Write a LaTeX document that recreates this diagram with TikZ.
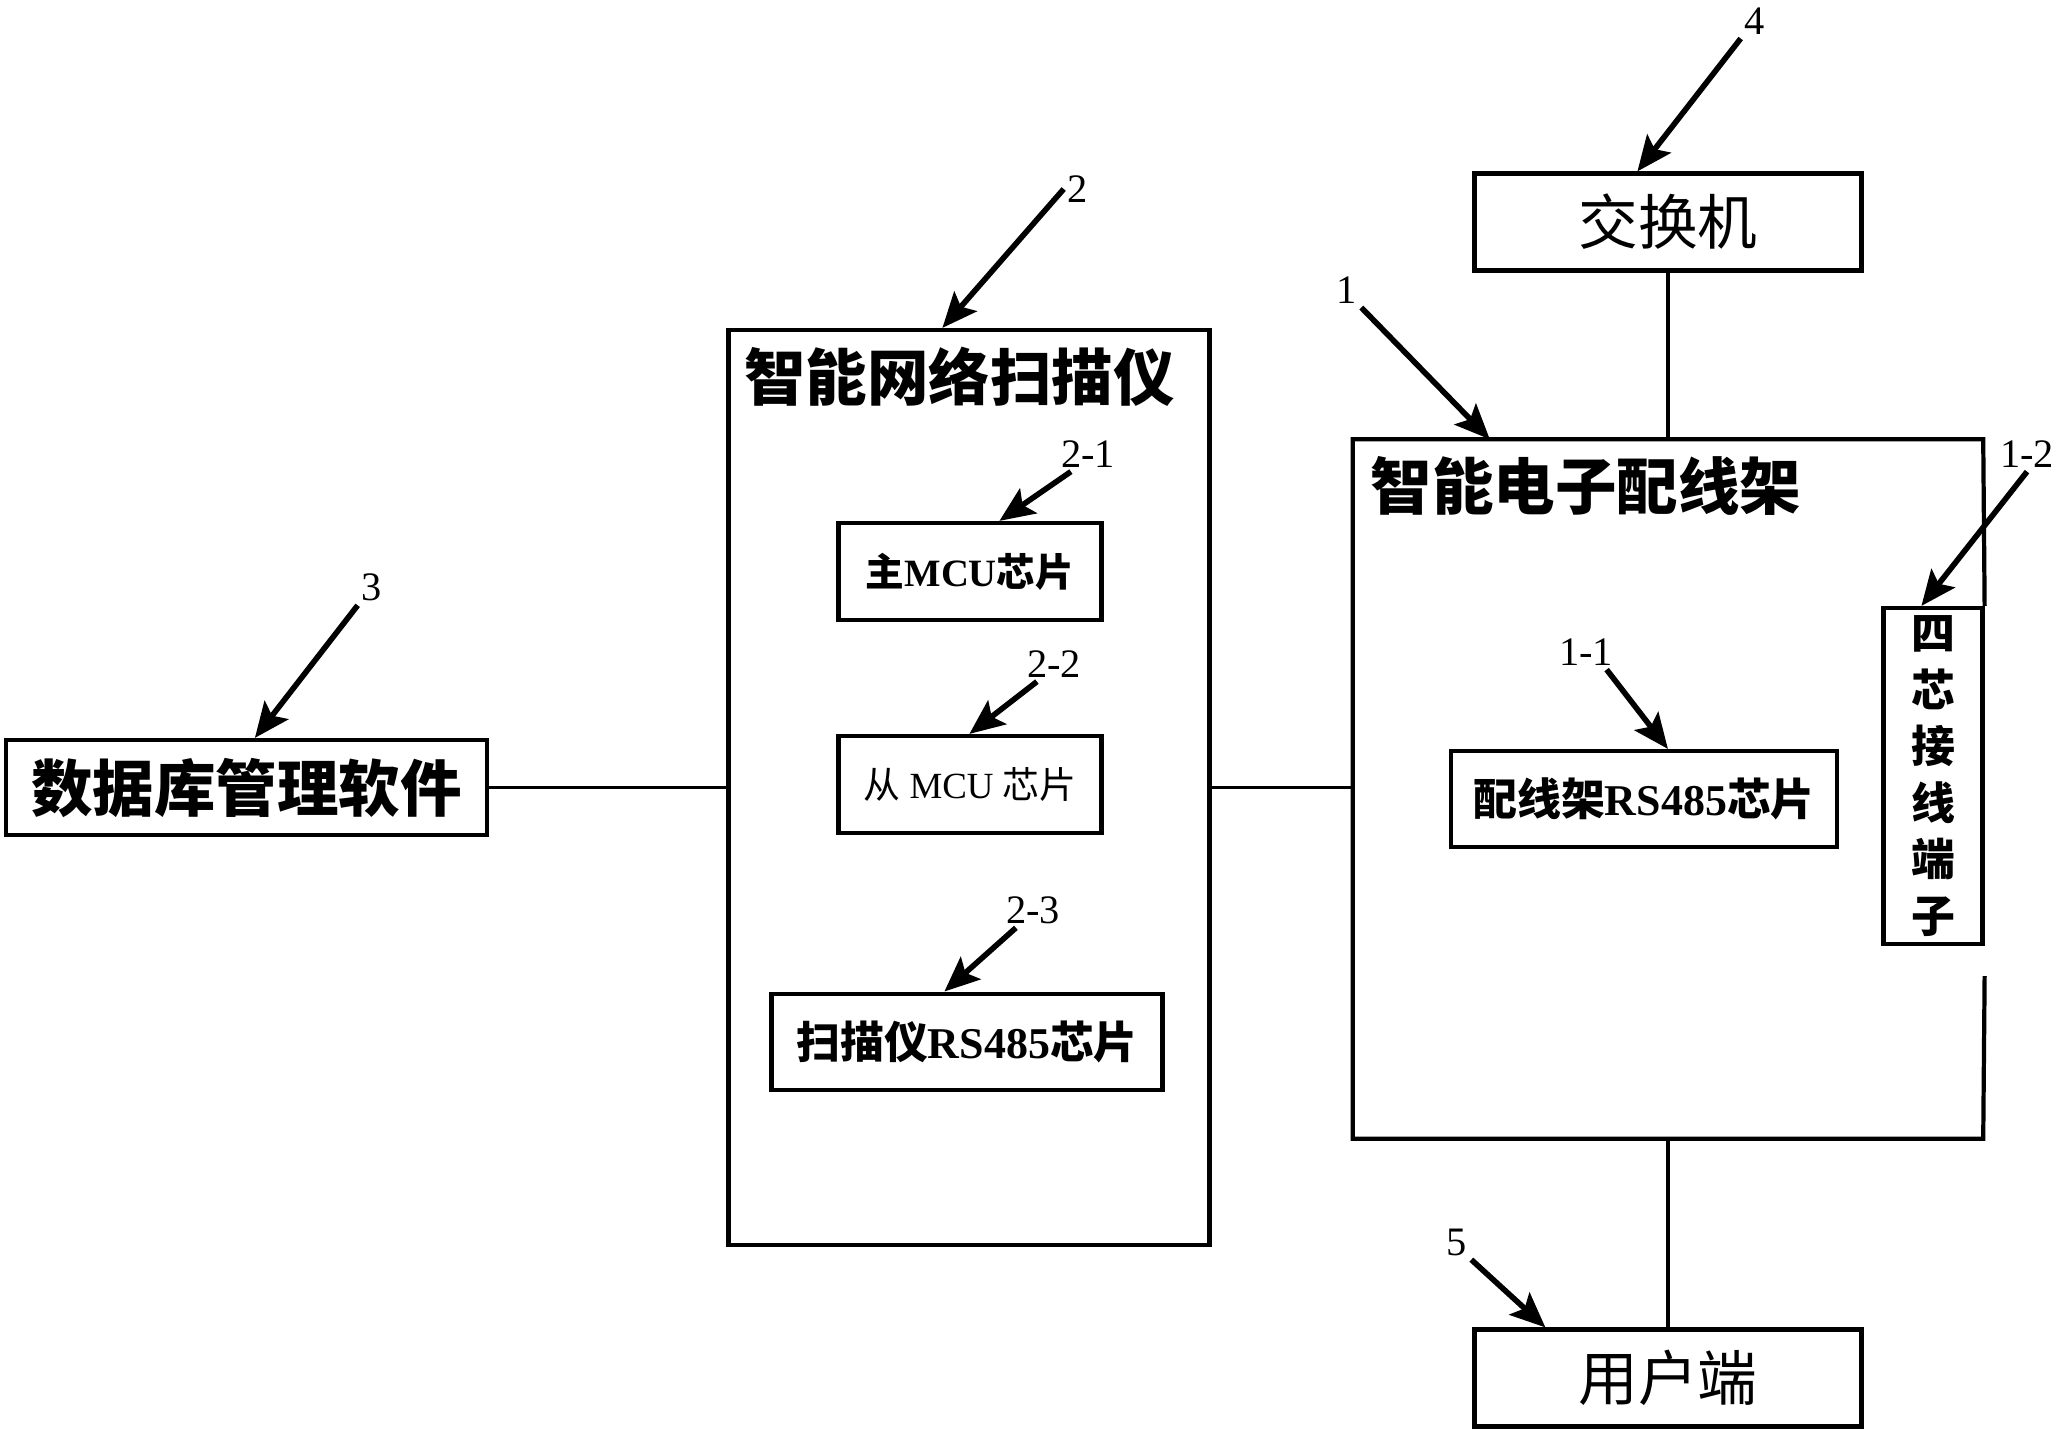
\documentclass[tikz,border=0pt]{standalone}
\usepackage{fontspec}
\setmainfont{Liberation Serif}
\newfontfamily\cjk{Noto Sans CJK SC}
\usetikzlibrary{arrows.meta}

\begin{document}
\begin{tikzpicture}[x=1cm, y=-1cm,
    unit/.style={draw, line width=1.2pt, inner sep=0pt,
        minimum width=3.87cm, minimum height=0.97cm,
        font=\cjk\fontsize{17}{20}\selectfont},
    chip/.style={draw, line width=1.2pt, inner sep=0pt,
        minimum height=0.96cm, font=\bfseries\fontsize{12.5}{15}\selectfont},
    frame/.style={draw, line width=1.2pt, inner sep=0pt},
    title/.style={anchor=north west, inner sep=0pt,
        font=\cjk\bfseries\fontsize{17.5}{20}\selectfont},
    num/.style={inner sep=1pt, font=\fontsize{11.5}{13}\selectfont},
    callout/.style={line width=1.6pt, -{Stealth[length=10pt, width=8.5pt, inset=2pt]}},
    link/.style={line width=1.1pt}
]
    \useasboundingbox (0,0) rectangle (20.59,14.34);

    \node[unit] (switch) at (16.68,2.22) {交换机};
    \node[unit] (user) at (16.68,13.78) {用户端};
    \node[unit, minimum width=4.81cm, minimum height=0.95cm,
        font=\cjk\bfseries\fontsize{17.5}{20}\selectfont] (db) at (2.465,7.875) {数据库管理软件};

    \node[frame, minimum width=4.81cm, minimum height=9.15cm] (scan) at (9.69,7.875) {};
    \node[title] (scantitle) at ([xshift=0.17cm, yshift=-0.18cm]scan.north west) {智能网络扫描仪};
    \node[chip, minimum width=2.63cm, minimum height=0.97cm,
        font=\bfseries\fontsize{11}{13}\selectfont] (mainmcu) at (9.70,5.715) {{\cjk 主}MCU{\cjk 芯片}};
    \node[chip, minimum width=2.63cm, minimum height=0.97cm,
        font=\fontsize{10.5}{13}\selectfont] (slavemcu) at (9.70,7.845) {{\cjk 从} MCU {\cjk 芯片}};
    \node[chip, minimum width=3.91cm] (scanrs) at (9.67,10.416) {{\cjk 扫描仪}RS485{\cjk 芯片}};

    \node[minimum width=6.29cm, minimum height=6.98cm, inner sep=0pt] (rack) at (16.68,7.89) {};
    \node[title] (racktitle) at ([xshift=0.17cm, yshift=-0.16cm]rack.north west) {智能电子配线架};
    \node[chip, minimum width=3.86cm] (rackrs) at (16.44,7.99) {{\cjk 配线架}RS485{\cjk 芯片}};
    \node[frame, minimum width=0.99cm, minimum height=3.36cm, align=center,
        font=\cjk\bfseries\fontsize{12.5}{16.1}\selectfont] (term) at (19.33,7.76) {四\\芯\\接\\线\\端\\子};
    \draw[line width=1.2pt] ([yshift=-0.30cm]term.south east) -- (rack.south east)
        -- (rack.south west) -- (rack.north west) -- (rack.north east) -- (term.north east);

    \draw[link] (switch) -- (rack);
    \draw[link] (rack) -- (user);
    \draw[link] (db.east) -- (db.east -| scan.west);
    \draw[link] (db.east -| scan.east) -- (db.east -| rack.west);

    \node[num] (n4) at (17.55,0.21) {4};
    \draw[callout] (n4.south west) -- ([xshift=1.65cm]switch.north west);
    \node[num] (n1) at (13.47,2.90) {1};
    \draw[callout] (n1.south east) -- ([xshift=1.37cm]rack.north west);
    \node[num] (n12) at (20.27,4.54) {1-2};
    \draw[callout] (n12.south) -- ([xshift=0.40cm]term.north west);
    \node[num] (n11) at (15.86,6.52) {1-1};
    \draw[callout] ([xshift=-3pt]n11.south east) -- ([xshift=2.19cm]rackrs.north west);
    \node[num] (n5) at (14.57,12.42) {5};
    \draw[callout] (n5.south east) -- ([xshift=0.73cm]user.north west);
    \node[num] (n2) at (10.78,1.89) {2};
    \draw[callout] (n2.west) -- ([xshift=2.16cm]scan.north west);
    \node[num] (n21) at (10.88,4.54) {2-1};
    \draw[callout] ([xshift=4pt]n21.south west) -- ([xshift=1.63cm]mainmcu.north west);
    \node[num] (n22) at (10.54,6.64) {2-2};
    \draw[callout] ([xshift=4pt]n22.south west) -- ([xshift=1.33cm]slavemcu.north west);
    \node[num] (n23) at (10.33,9.10) {2-3};
    \draw[callout] ([xshift=4pt]n23.south west) -- ([xshift=1.75cm]scanrs.north west);
    \node[num] (n3) at (3.72,5.875) {3};
    \draw[callout] (n3.south west) -- ([xshift=2.51cm]db.north west);
\end{tikzpicture}
\end{document}
